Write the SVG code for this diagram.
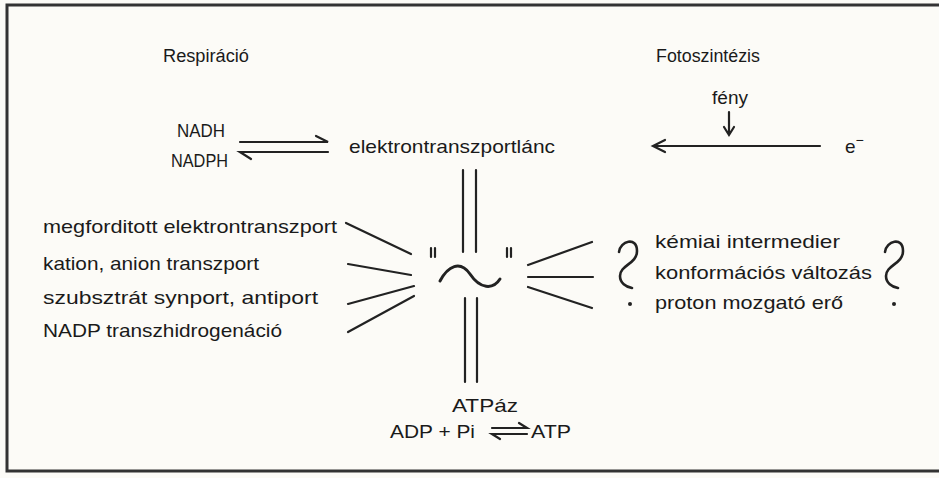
<svg xmlns="http://www.w3.org/2000/svg" width="939" height="478" viewBox="0 0 939 478">
<style>
text{font-family:"Liberation Sans","DejaVu Sans",sans-serif;font-size:19px;fill:#1a1a1a}
.t{font-size:18px}
.ln{stroke:#222;stroke-width:2.2;fill:none;stroke-linecap:round}
.q{stroke:#222;stroke-width:2.6;fill:none;stroke-linecap:round}
.thk{stroke:#222;stroke-width:3;fill:none;stroke-linecap:round}
</style>
<rect x="0" y="0" width="939" height="478" fill="#fcfbf7"/>
<path d="M945,5 H7 V471 H945" stroke="#333" stroke-width="3" fill="none"/>

<g id="respiracio"><text class="t" x="163" y="62" textLength="86" lengthAdjust="spacingAndGlyphs">Respiráció</text></g>
<g id="fotoszintezis"><text class="t" x="656" y="62" textLength="104" lengthAdjust="spacingAndGlyphs">Fotoszintézis</text></g>
<g id="feny"><text class="t" x="712" y="104" textLength="36" lengthAdjust="spacingAndGlyphs">fény</text></g>
<g id="electron"><text x="845" y="153">e<tspan dy="-8" font-size="14">−</tspan></text></g>
<g id="nadh"><text x="177" y="137" textLength="48" lengthAdjust="spacingAndGlyphs">NADH</text></g>
<g id="nadph"><text x="171" y="167" textLength="57" lengthAdjust="spacingAndGlyphs">NADPH</text></g>
<g id="etl"><text x="349" y="153" textLength="206" lengthAdjust="spacingAndGlyphs">elektrontranszportlánc</text></g>

<g id="left-list">
<text x="43" y="233" textLength="294" lengthAdjust="spacingAndGlyphs">megforditott elektrontranszport</text>
<text x="43" y="270" textLength="216" lengthAdjust="spacingAndGlyphs">kation, anion transzport</text>
<text x="43" y="304" textLength="275" lengthAdjust="spacingAndGlyphs">szubsztrát synport, antiport</text>
<text x="43" y="337" textLength="239" lengthAdjust="spacingAndGlyphs">NADP transzhidrogenáció</text>
</g>

<g id="right-list">
<text x="655" y="248" textLength="185" lengthAdjust="spacingAndGlyphs">kémiai intermedier</text>
<text x="655" y="279" textLength="217" lengthAdjust="spacingAndGlyphs">konformációs változás</text>
<text x="655" y="309" textLength="188" lengthAdjust="spacingAndGlyphs">proton mozgató erő</text>
<path class="q" d="M619,252 C620,241 637,236 637,251 C637,264 620,265 620,276 C620,283 626,287 632,288"/>
<circle cx="630" cy="304" r="2" fill="#222"/>
<path class="q" d="M885,252 C886,241 903,236 903,251 C903,264 886,265 886,276 C886,283 892,287 898,288"/>
<circle cx="894" cy="304" r="2" fill="#222"/>
</g>

<g id="center">
<path class="thk" d="M440,281 C448,266 460,260 470,274 C480,289 493,290 500,279"/>
<path class="ln" d="M431,248 V257 M435,248 V257 M507,248 V257 M511,248 V257"/>
</g>

<g id="atpaz"><text x="452" y="412" textLength="66" lengthAdjust="spacingAndGlyphs">ATPáz</text></g>
<g id="atp-reaction">
<text x="390" y="438" textLength="85" lengthAdjust="spacingAndGlyphs">ADP + Pi</text>
<text x="531" y="438" textLength="40" lengthAdjust="spacingAndGlyphs">ATP</text>
<path class="ln" d="M492,428 H527 L519,423 M527,434 H492 L500,439"/>
</g>

<g id="connectors">
<path class="ln" d="M240,142 H328 L316,136 M328,152 H240 L251,159"/>
<path class="ln" d="M729,112 V134 M724,127 L729,135 L734,127"/>
<path class="ln" d="M820,146 H653 M665,140 L653,146 L665,152"/>
<path class="ln" d="M463,170 V252 M476,170 V252 M465,298 V382 M477,298 V382"/>
<path class="ln" d="M346,223 L411,254 M348,264 L411,275 M348,304 L414,286 M348,332 L414,296"/>
<path class="ln" d="M528,265 L592,242 M528,277 L593,277 M528,287 L592,308"/>
</g>
</svg>
